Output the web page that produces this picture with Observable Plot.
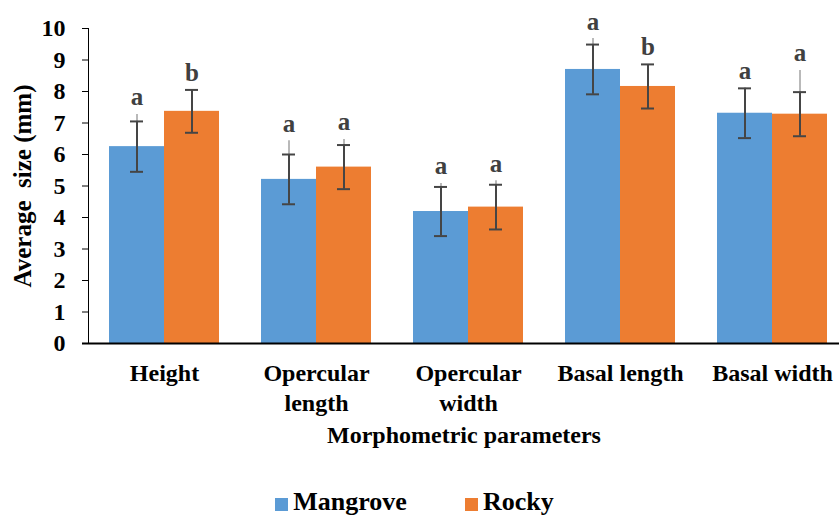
<!DOCTYPE html>
<html>
<head>
<meta charset="utf-8">
<script src="https://cdn.jsdelivr.net/npm/d3@7"></script>
<script src="https://cdn.jsdelivr.net/npm/@observablehq/plot@0.6"></script>
</head>
<body style="margin:0; background:#fff">
<div id="chart" style="width:839px"></div>
<script>
const categories = ["Height", "Opercular\nlength", "Opercular\nwidth", "Basal length", "Basal width"];
const seriesNames = ["Mangrove", "Rocky"];
const mangroveValues = [6.25, 5.21, 4.19, 8.70, 7.31];
const mangroveErrors = [0.80, 0.79, 0.78, 0.79, 0.79];
const mangroveExtra = [7.27, 6.44, 5.08, 9.68, null];   // faint upper line top
const mangroveLetters = ["a", "a", "a", "a", "a"];
const rockyValues = [7.37, 5.60, 4.33, 8.16, 7.28];
const rockyErrors = [0.68, 0.70, 0.71, 0.70, 0.70];
const rockyExtra = [null, 6.48, 5.17, null, 8.67];
const rockyLetters = ["b", "a", "a", "b", "a"];
const yTicks = [0, 1, 2, 3, 4, 5, 6, 7, 8, 9, 10];
const colors = ["#5B9BD5", "#ED7D31"];

const build = (series, vals, errs, extra, letters) => categories.map((c, i) => ({
  category: c, series, value: vals[i], err: errs[i], extra: extra[i], letter: letters[i]
}));
const mangrove = build("Mangrove", mangroveValues, mangroveErrors, mangroveExtra, mangroveLetters);
const rocky = build("Rocky", rockyValues, rockyErrors, rockyExtra, rockyLetters);

const font = "'Liberation Serif'";
const errColor = "#454545";
const half = 55;   // half of the group's band width (px)
const cap = 13;

function seriesMarks(data, side) {
  const off = side < 0 ? -half / 2 : half / 2;
  const barInset = side < 0 ? {insetRight: half} : {insetLeft: half};
  const capInset = side < 0
    ? {insetLeft: half / 2 - cap / 2, insetRight: half + half / 2 - cap / 2}
    : {insetLeft: half + half / 2 - cap / 2, insetRight: half / 2 - cap / 2};
  const top = d => Math.max(d.value + d.err, d.extra ?? 0);
  return [
    Plot.barY(data, {x: "category", y: "value", fill: "series", ...barInset}),
    Plot.ruleX(data.filter(d => d.extra != null), {x: "category", y1: "value", y2: "extra", dx: off, stroke: "#a8a8a8", strokeWidth: 1.6}),
    Plot.ruleX(data, {x: "category", y1: d => d.value - d.err, y2: d => d.value + d.err, dx: off, stroke: errColor, strokeWidth: 2}),
    Plot.tickY(data, {x: "category", y: d => d.value - d.err, stroke: errColor, strokeWidth: 2, ...capInset}),
    Plot.tickY(data, {x: "category", y: d => d.value + d.err, stroke: errColor, strokeWidth: 2, ...capInset}),
    Plot.text(data, {x: "category", y: top, text: "letter", dx: off, dy: -17, fill: "#404040",
      fontWeight: "bold", fontSize: 25})
  ];
}

const plot = Plot.plot({
  width: 839,
  height: 470,
  marginLeft: 88,
  marginRight: 0,
  marginTop: 28,
  marginBottom: 127,
  style: {fontWeight: "bold", fontSize: "24px", color: "#000", background: "#fff"},
  x: {domain: categories, range: [88, 848], paddingInner: 0.276, paddingOuter: 0.138, label: null, axis: null},
  y: {domain: [0, 10], label: null, ticks: yTicks, tickSize: 6, tickPadding: 17, line: true, tickFormat: d => String(d)},
  color: {domain: seriesNames, range: colors},
  marks: [
    Plot.axisX({tickSize: 0, tickPadding: 16, fontSize: 24, fontWeight: "bold", lineHeight: 1.25, label: null}),
    ...seriesMarks(mangrove, -1),
    ...seriesMarks(rocky, 1),
    Plot.ruleY([0], {stroke: "#000", strokeWidth: 2, insetLeft: -6}),
    Plot.text(["Average  size (mm)"], {frameAnchor: "left", textAnchor: "middle", rotate: -90, dx: -66, fontWeight: "bold", fontSize: 25, fill: "#000"}),
    Plot.text(["Morphometric parameters"], {frameAnchor: "bottom", textAnchor: "middle", dy: 99, fontWeight: "bold", fontSize: 24, fill: "#000"})
  ]
});
document.getElementById("chart").appendChild(plot);
plot.style.fontFamily = font;
plot.querySelectorAll("text, tspan, g").forEach(t => { t.style.fontFamily = font; t.style.fontWeight = "bold"; });

const legend = document.createElement("div");
Object.assign(legend.style, {
  display: "flex", justifyContent: "center", alignItems: "center", gap: "58px",
  paddingTop: "18px", marginLeft: "-10px", fontFamily: font, fontWeight: "bold",
  fontSize: "26px", lineHeight: "28px", color: "#000"
});
seriesNames.forEach((s, i) => {
  const item = document.createElement("span");
  Object.assign(item.style, {display: "inline-flex", alignItems: "center", fontFamily: font, fontWeight: "bold"});
  const sw = document.createElement("span");
  Object.assign(sw.style, {display: "inline-block", width: "13px", height: "13px", marginRight: "5px", marginTop: "4px", background: colors[i]});
  const label = document.createElement("span");
  Object.assign(label.style, {fontFamily: font, fontWeight: "bold"});
  label.textContent = s;
  item.appendChild(sw);
  item.appendChild(label);
  legend.appendChild(item);
});
document.getElementById("chart").appendChild(legend);
</script>
</body>
</html>
